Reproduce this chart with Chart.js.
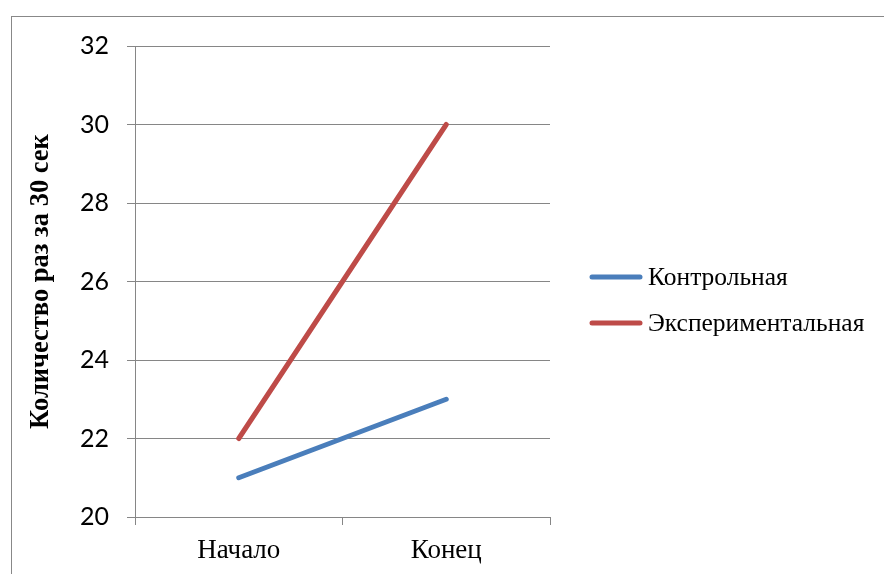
<!DOCTYPE html>
<html>
<head>
<meta charset="utf-8">
<script src="https://cdn.jsdelivr.net/npm/chart.js@4.4.1/dist/chart.umd.min.js"></script>
<style>
  html, body { margin: 0; padding: 0; background: #fff; overflow: hidden; }
  #frame { position: absolute; left: 11px; top: 16px; width: 1000px; height: 700px; border-left: 1px solid #888; border-top: 1px solid #888; }
  #chart { position: absolute; left: 0; top: 0; }
</style>
</head>
<body>
<div id="frame"></div>
<canvas id="chart" width="884" height="574"></canvas>
<script>
const categories = ['Начало', 'Конец'];
const control_values = [21, 23];
const experimental_values = [22, 30];
const series_names = ['Контрольная', 'Экспериментальная'];
const y_title = 'Количество раз за 30 сек';

const grid_color = '#868686';
const canvas = document.getElementById('chart');

// legend on the right: a short line and the series name, drawn by hand
const side_legend = {
  id: 'side_legend',
  afterDraw (chart) {
    const ctx = chart.ctx;
    const area = chart.chartArea;
    const x0 = area.right + 42;
    const y_first = 277;
    const step = 46;
    ctx.save();
    ctx.font = '25.5px "Liberation Serif"';
    ctx.textBaseline = 'middle';
    ctx.fillStyle = '#000';
    chart.data.datasets.forEach(function (ds, i) {
      const y = y_first + i * step;
      ctx.strokeStyle = ds.borderColor;
      ctx.lineWidth = 5;
      ctx.lineCap = 'round';
      ctx.beginPath();
      ctx.moveTo(x0, y);
      ctx.lineTo(x0 + 48, y);
      ctx.stroke();
      ctx.fillText(ds.label, x0 + 56, y + 1);
    });
    ctx.restore();
  }
};

const chart = new Chart(canvas, {
  type: 'line',
  data: {
    labels: categories,
    datasets: [{
      label: series_names[0],
      data: control_values,
      borderColor: '#4a7ebb',
      borderWidth: 5,
      borderCapStyle: 'round',
      pointRadius: 0,
      tension: 0
    }, {
      label: series_names[1],
      data: experimental_values,
      borderColor: '#be4b48',
      borderWidth: 5,
      borderCapStyle: 'round',
      pointRadius: 0,
      tension: 0
    }]
  },
  options: {
    responsive: false,
    animation: false,
    devicePixelRatio: 1,
    layout: { padding: { left: 25, top: 46, right: 334, bottom: 0 } },
    plugins: {
      legend: { display: false },
      tooltip: { enabled: false }
    },
    scales: {
      x: {
        offset: true,
        grid: { offset: true, drawOnChartArea: false, drawTicks: true, tickLength: 8, color: grid_color },
        border: { color: grid_color },
        ticks: { color: '#000', padding: 10, font: { family: 'Liberation Serif', size: 27 } },
        afterFit: (scale) => { scale.height = 57; }
      },
      y: {
        min: 20,
        max: 32,
        ticks: { stepSize: 2, color: '#000', padding: 18, font: { family: 'Lato', size: 25 } },
        grid: { color: grid_color, tickLength: 8 },
        border: { color: grid_color },
        title: {
          display: true,
          text: y_title,
          color: '#000',
          padding: 0,
          font: { family: 'Liberation Serif', size: 26.5, weight: 'bold' }
        },
        afterFit: (scale) => { scale.width = 110; }
      }
    }
  },
  plugins: [side_legend]
});
</script>
</body>
</html>
